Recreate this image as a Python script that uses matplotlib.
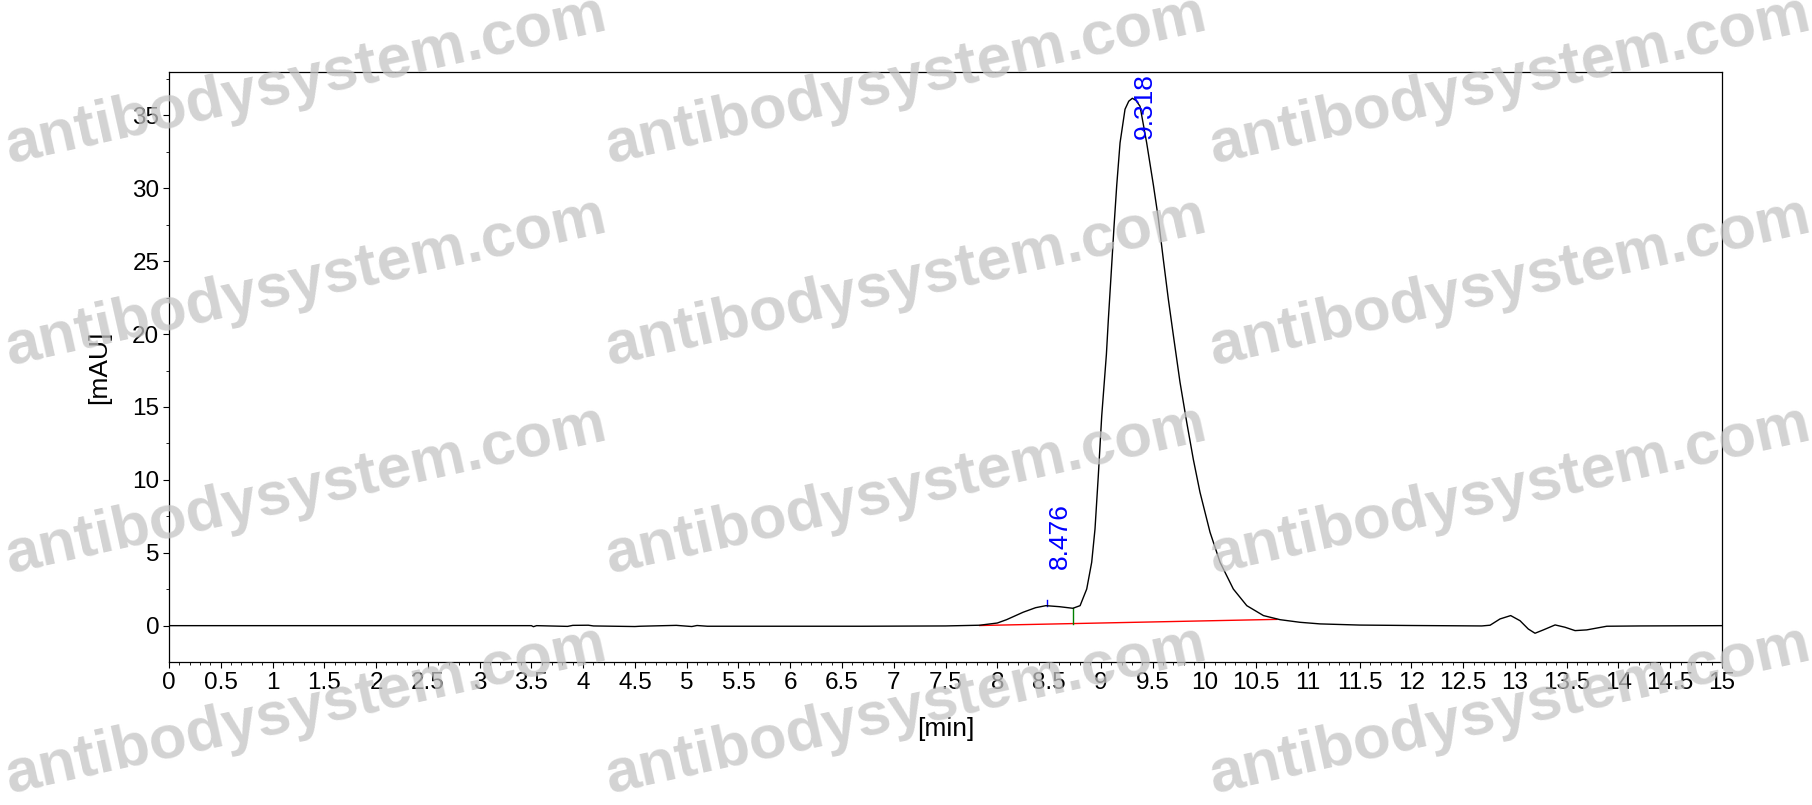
import matplotlib
matplotlib.use("Agg")
import matplotlib.pyplot as plt
from matplotlib.ticker import MultipleLocator, FuncFormatter

plt.rcParams['font.family'] = ['Liberation Sans', 'DejaVu Sans']

# chromatogram
time_min = [0.0, 3.5, 3.52, 3.55, 3.85, 3.9, 4.05, 4.1, 4.5, 4.55, 4.9, 5.05, 5.1, 5.2,
            6.7, 7.5, 7.83, 8.0, 8.09, 8.25, 8.37, 8.47, 8.6, 8.73, 8.8, 8.864, 8.912,
            8.944, 8.976, 9.009, 9.054, 9.073, 9.099, 9.128, 9.154, 9.186, 9.234, 9.27,
            9.305, 9.34, 9.379, 9.443, 9.508, 9.556, 9.604, 9.652, 9.701, 9.765, 9.83,
            9.894, 9.958, 10.055, 10.152, 10.28, 10.41, 10.571, 10.731, 10.924, 11.118,
            11.5, 12.0, 12.68, 12.76, 12.856, 12.959, 13.049, 13.129, 13.194, 13.275,
            13.388, 13.484, 13.581, 13.694, 13.887, 14.209, 15.0]
signal_mau = [0.02, 0.02, -0.05, 0.02, -0.03, 0.04, 0.05, 0.0, -0.04, -0.02, 0.04, -0.04, 0.03, -0.02,
              -0.02, 0.0, 0.05, 0.2, 0.43, 0.94, 1.25, 1.39, 1.32, 1.21, 1.39, 2.53, 4.36,
              6.64, 10.3, 14.4, 18.6, 21.0, 24.0, 27.4, 30.2, 33.1, 35.4, 35.95,
              36.15, 36.0, 35.6, 33.1, 30.2, 27.9, 25.1, 22.4, 19.9, 16.7, 13.95,
              11.4, 9.16, 6.42, 4.36, 2.53, 1.39, 0.71, 0.43, 0.25, 0.14,
              0.06, 0.03, 0.0, 0.05, 0.48, 0.71, 0.36, -0.21, -0.50, -0.27,
              0.07, -0.09, -0.32, -0.27, -0.02, 0.0, 0.02]

# integration baseline and peak markers
baseline_t = [7.83, 10.70]
baseline_y = [0.03, 0.45]
valley_t = 8.73
valley_y = [0.16, 1.21]
peak_times = [8.476, 9.318]
peak_tick_y = [1.39, 1.8]
label_y = [3.9, 37.9]

fig = plt.figure(figsize=(18.12, 8.05), dpi=100)
ax = fig.add_axes([169 / 1812, 1 - 662 / 805, 1553 / 1812, 590 / 805])

ax.plot(time_min, signal_mau, color='black', lw=1.0, zorder=3)
ax.plot(baseline_t, baseline_y, color='red', lw=1.0, zorder=2)
ax.plot([valley_t, valley_t], valley_y, color='green', lw=1.0, zorder=2)
ax.plot([peak_times[0], peak_times[0]], peak_tick_y, color='blue', lw=1.0, zorder=2)

ax.text(peak_times[0] + 0.01, label_y[0], f"{peak_times[0]:.3f}", color='blue', fontsize=19,
        rotation=90, ha='left', va='bottom')
ax.text(peak_times[1] - 0.01, label_y[1], f"{peak_times[1]:.3f}", color='blue', fontsize=19,
        rotation=90, ha='left', va='top')

ax.set_xlim(0, 15)
ax.set_ylim(-2.47, 37.95)
ax.xaxis.set_major_locator(MultipleLocator(0.5))
ax.xaxis.set_minor_locator(MultipleLocator(0.1))
ax.yaxis.set_major_locator(MultipleLocator(5))
ax.yaxis.set_minor_locator(MultipleLocator(2.5))
ax.xaxis.set_major_formatter(FuncFormatter(lambda v, p: f"{v:g}"))
ax.tick_params(which='major', direction='out', length=4, width=0.8, labelsize=17.5, pad=3)
ax.tick_params(which='minor', direction='out', length=2, width=0.6)
for s in ax.spines.values():
    s.set_linewidth(0.9)

ax.set_xlabel("[min]", fontsize=19)
ax.set_ylabel("[mAU]", fontsize=19)
ax.xaxis.set_label_coords(0.5, -0.093)
ax.yaxis.set_label_coords(-0.037, 0.5)

# watermark grid
wm_x = [0.169, 0.5, 0.833]
wm_y = [0.899, 0.648, 0.39, 0.117]
for wx in wm_x:
    for wy in wm_y:
        fig.text(wx, wy, "antibodysystem.com", fontsize=44.5, fontweight='bold',
                 color='#c4c4c4', alpha=0.75, rotation=12.6, ha='center', va='center',
                 zorder=0, rotation_mode='anchor')

fig.savefig("out.png", dpi=100)
